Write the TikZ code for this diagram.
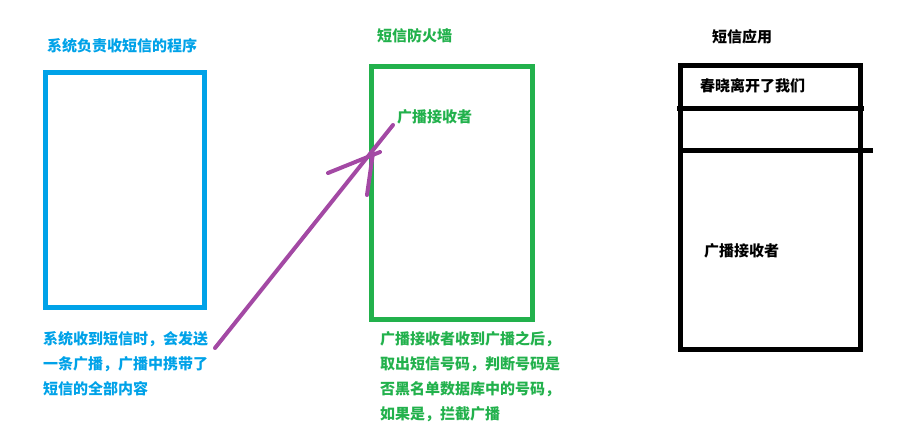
\documentclass[tikz,border=0pt]{standalone}
\usepackage{fontspec}
\newfontfamily\cjk{Noto Sans CJK SC}
\definecolor{skyblue}{HTML}{00A2E8}
\definecolor{grassgreen}{HTML}{22B14C}
\definecolor{penpurple}{HTML}{A349A4}
\begin{document}
\begin{tikzpicture}
[
x=1pt, y=-1pt,
every node/.style ={inner sep=0pt, anchor=west, align=left,
  font=\cjk\bfseries\fontsize{15}{25}\selectfont},
bluebox/.style={draw=skyblue, line width=5pt},
greenbox/.style={draw=grassgreen, line width=5pt},
blackbox/.style={draw=black, line width=5pt},
bluetext/.style={text=skyblue},
greentext/.style={text=grassgreen},
pen/.style={draw=penpurple, line width=4pt, line cap=round},
],
%
\useasboundingbox (0,0) rectangle (907,442);

% boxes
\draw [bluebox] (45.5,72.5) rectangle (204.5,307);
\draw [greenbox] (371.5,66.5) rectangle (532.5,319.5);
\draw [blackbox] (680.5,65.5) rectangle (860.5,349.5);
\draw [blackbox] (677,108.5) -- (864,108.5);
\draw [blackbox] (682,150) -- (873,150);

% titles
\node [bluetext]  (SysTitle)  at (47,46)  {系统负责收短信的程序};
\node [greentext] (WallTitle) at (377,36) {短信防火墙};
\node             (AppTitle)  at (712,37) {短信应用};

% inside the boxes
\node [greentext] (WallRecv) at (397,117) {广播接收者};
\node             (AppMsg)   at (700,86)  {春晓离开了我们};
\node             (AppRecv)  at (704,251) {广播接收者};

% notes
\node [bluetext]  (SysNote)  at (43,364)   {系统收到短信时，会发送\\一条广播，广播中携带了\\短信的全部内容};
\node [greentext] (WallNote) at (380,376.5) {广播接收者收到广播之后，\\取出短信号码，判断号码是\\否黑名单数据库中的号码，\\如果是，拦截广播};

% hand drawn arrow
\coordinate (Tail)  at (215,348);
\coordinate (Head)  at (393,125);
\coordinate (BarbL) at (328,173);
\coordinate (TipL)  at (380,152);
\coordinate (BarbR) at (367,195);
\coordinate (TipR)  at (373,153);
%
\draw [pen] (Tail) -- (Head);
\draw [pen] (BarbL) -- (TipL);
\draw [pen] (BarbR) -- (TipR);
%
\end{tikzpicture}
\end{document}
